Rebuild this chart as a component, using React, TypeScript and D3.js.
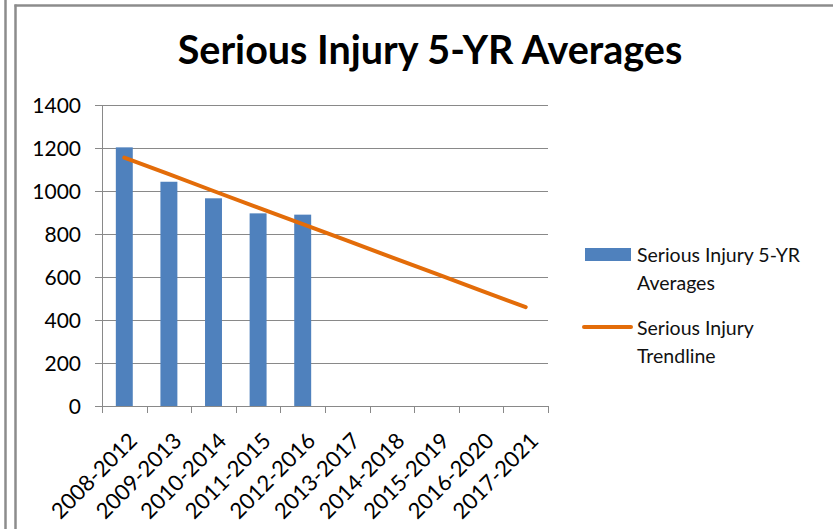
import React from "react";
import * as d3 from "d3";

const categories = [
  "2008-2012", "2009-2013", "2010-2014", "2011-2015", "2012-2016",
  "2013-2017", "2014-2018", "2015-2019", "2016-2020", "2017-2021",
];
const barValues: (number | null)[] = [1203, 1043, 966, 896, 890, null, null, null, null, null];
const trendValues = [1155, 1078, 1000, 923, 846, 769, 691, 614, 537, 460];
const yTicks = [0, 200, 400, 600, 800, 1000, 1200, 1400];
const titleText = "Serious Injury 5-YR Averages";
const legendBar = ["Serious Injury 5-YR", "Averages"];
const legendLine = ["Serious Injury", "Trendline"];

const W = 833, H = 529;
const plot = { left: 102, right: 548, top: 105, bottom: 406 };
const BLUE = "#4F81BD";
const ORANGE = "#E36C09";
const GRID = "#898989";
const FONT = "Lato, 'Open Sans', sans-serif";

export default function App() {
  const x = d3.scaleBand<string>().domain(categories).range([plot.left, plot.right]).paddingInner(0).paddingOuter(0);
  const y = d3.scaleLinear().domain([0, 1400]).range([plot.bottom, plot.top]);
  const bw = x.bandwidth();
  const barW = bw * 0.38;
  const cx = (c: string) => (x(c) as number) + bw / 2;
  const line = d3.line<number>().x((_, i) => cx(categories[i])).y((d) => y(d));
  const boundaries = [...categories.map((c) => x(c) as number), plot.right];

  return (
    <svg width={W} height={H} style={{ position: "absolute", left: 0, top: 0, background: "#fff" }}>
      <rect x={0} y={0} width={W} height={H} fill="#fff" />
      {/* frame lines */}
      <line x1={5.5} x2={5.5} y1={0} y2={H} stroke="#8c8c8c" strokeWidth={2.5} />
      <line x1={15.5} x2={15.5} y1={4.5} y2={H} stroke="#8c8c8c" strokeWidth={2.5} />
      <line x1={14.5} x2={W} y1={5.5} y2={5.5} stroke="#8c8c8c" strokeWidth={2.5} />

      <text x={430} y={64} textAnchor="middle" fontFamily={FONT} fontWeight={700} fontSize={39.5} fill="#000">
        {titleText}
      </text>

      {/* gridlines */}
      {yTicks.map((t) => (
        <line key={t} x1={95} x2={plot.right} y1={Math.round(y(t)) + 0.5} y2={Math.round(y(t)) + 0.5} stroke={GRID} strokeWidth={1} />
      ))}
      {/* y axis */}
      <line x1={plot.left + 0.5} x2={plot.left + 0.5} y1={plot.top} y2={plot.bottom} stroke={GRID} />
      {/* x ticks */}
      {boundaries.map((b, i) => (
        <line key={i} x1={Math.round(b) + 0.5} x2={Math.round(b) + 0.5} y1={plot.bottom} y2={plot.bottom + 7} stroke={GRID} />
      ))}
      {yTicks.map((t) => (
        <text key={t} x={81} y={y(t)} dy="0.36em" textAnchor="end" fontFamily={FONT} fontSize={21} fill="#000">
          {t}
        </text>
      ))}

      {/* bars */}
      {barValues.map((v, i) =>
        v == null ? null : (
          <rect key={i} x={cx(categories[i]) - barW / 2} y={y(v)} width={barW} height={y(0) - y(v)} fill={BLUE} />
        )
      )}

      {/* trendline */}
      <path d={line(trendValues) as string} fill="none" stroke={ORANGE} strokeWidth={4} strokeLinecap="round" />

      {/* category labels */}
      {categories.map((c) => (
        <text key={c} transform={`translate(${cx(c) + 3},${431}) rotate(-45)`} dy="0.72em" textAnchor="end" fontFamily={FONT} fontSize={22} fill="#000">
          {c}
        </text>
      ))}

      {/* legend */}
      <rect x={585} y={248} width={46} height={13} fill={BLUE} />
      {legendBar.map((t, i) => (
        <text key={t} x={637} y={262 + i * 28} fontFamily={FONT} fontSize={19.5} fill="#111">{t}</text>
      ))}
      <line x1={584} x2={631} y1={327} y2={327} stroke={ORANGE} strokeWidth={4} strokeLinecap="round" />
      {legendLine.map((t, i) => (
        <text key={t} x={637} y={335 + i * 28} fontFamily={FONT} fontSize={19.5} fill="#111">{t}</text>
      ))}
    </svg>
  );
}
